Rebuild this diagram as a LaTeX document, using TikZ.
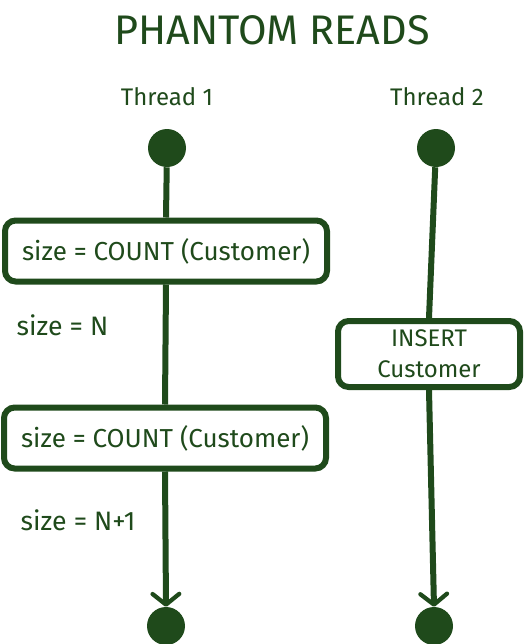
\documentclass[tikz,border=0pt]{standalone}
\usepackage{fontspec}
\setmainfont{Fira Sans}
\usetikzlibrary{arrows.meta}
\definecolor{ink}{HTML}{1F4A1B}
\begin{document}
\begin{tikzpicture}[x=0.75pt,y=-0.75pt,
  every node/.style={text=ink},
  dot/.style={circle,fill=ink,minimum size=28.5pt,inner sep=0pt},
  stepbox/.style={draw=ink,line width=4.5pt,rounded corners=8pt,fill=white,inner sep=0pt,align=center,font=\fontsize{19.5}{22}\selectfont},
  flow/.style={draw=ink,line width=4.5pt},
  lbl/.style={font=\fontsize{20}{22}\selectfont,anchor=west},
  tip/.style={-{Straight Barb[length=8pt,width=20pt,line width=3.2pt,round]}}]
\useasboundingbox (0,0) rectangle (527,644);
\node[font=\fontsize{31}{36}\selectfont] (title) at (272,30) {PHANTOM READS};
\node[font=\fontsize{18}{20}\selectfont] (t1) at (167,97) {Thread 1};
\node[font=\fontsize{18}{20}\selectfont] (t2) at (437,97) {Thread 2};
\node[dot] (s1) at (167,148) {};
\node[dot] (s2) at (436,148) {};
\node[dot] (e1) at (166,626) {};
\node[dot] (e2) at (434,626) {};
\node[stepbox,minimum width=241.5pt,minimum height=45.75pt] (b1) at (166,251) {size = COUNT (Customer)};
\node[stepbox,minimum width=241.5pt,minimum height=45.75pt] (b2) at (165,438) {size = COUNT (Customer)};
\node[stepbox,minimum width=136.5pt,minimum height=49.5pt,font=\fontsize{18}{23}\selectfont] (b3) at (429,354) {INSERT\\Customer};
\node[lbl] (n1) at (12,325) {size = N};
\node[lbl] (n2) at (16,520) {size = N+1};
\draw[flow] (s1) -- (b1.north);
\draw[flow] (b1.south) -- (b2.north);
\draw[flow,tip] (b2.south) -- (e1.north);
\draw[flow] (s2) -- (b3.north);
\draw[flow,tip] (b3.south) -- (e2.north);
\end{tikzpicture}
\end{document}
